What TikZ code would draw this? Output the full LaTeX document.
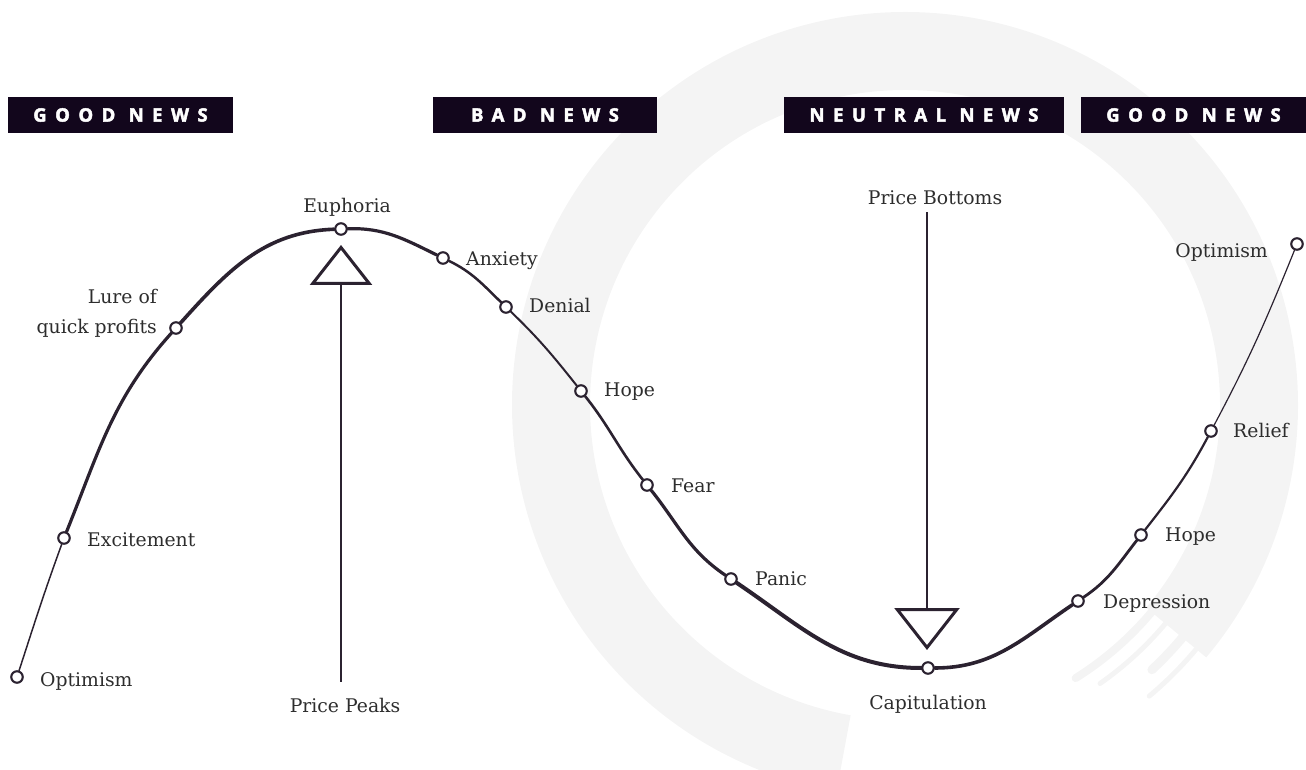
\documentclass[tikz,border=0pt]{standalone}
\usepackage{fontspec}
\setmainfont{DejaVu Serif}
\newfontfamily\hdrfont[LetterSpace=46, BoldFeatures={FakeBold=2.5}]{Open Sans}
\usetikzlibrary{arrows.meta}
\definecolor{ink}{HTML}{2B2230}
\definecolor{txt}{HTML}{2D2D2D}
\definecolor{tag}{HTML}{12061C}
\definecolor{wash}{HTML}{F4F4F4}

\begin{document}
\begin{tikzpicture}[x=1pt,y=1pt,
  dot/.style={circle, draw=ink, fill=white, line width=2.1pt, inner sep=0pt, minimum size=11.5pt},
  lbl/.style={font=\fontsize{18.8}{30}\selectfont, text=txt, inner sep=0pt, text height=13.8pt, text depth=0pt},
  tagbox/.style={fill=tag, text=white, minimum height=36pt, inner sep=0pt,
                 font=\hdrfont\bfseries\fontsize{18.5}{18.5}\selectfont},
  seg/.style={draw=ink, line cap=round, line width=#1},
  pointer/.style={draw=ink, line width=2.2pt,
                  -{Triangle[open, length=40pt, width=62pt, line width=3pt]}},
]
\useasboundingbox (0,0) rectangle (1306,769);

% ink-wash circle behind everything
\draw[wash, line width=78pt] (905,364) ++(-40:354) arc[start angle=-40, end angle=260, radius=354];
% dry-brush streaks where the stroke ends
\draw[wash, line width=8pt, line cap=round] (905,364) ++(-36:322) arc[start angle=-36, end angle=-58, radius=322];
\draw[wash, line width=5pt, line cap=round] (905,364) ++(-38:340) arc[start angle=-38, end angle=-55, radius=340];
\draw[wash, line width=9pt, line cap=round] (905,364) ++(-36:362) arc[start angle=-36, end angle=-47, radius=362];
\draw[wash, line width=5pt, line cap=round] (905,364) ++(-40:380) arc[start angle=-40, end angle=-50, radius=380];

% news headers
\node[tagbox, minimum width=225pt] (h1) at (120.5,654) {GOOD NEWS};
\node[tagbox, minimum width=224pt] (h2) at (545,654) {BAD NEWS};
\node[tagbox, minimum width=280pt] (h3) at (924,654) {NEUTRAL NEWS};
\node[tagbox, minimum width=225pt] (h4) at (1193.5,654) {GOOD NEWS};

% stations of the cycle
\node[dot] (p1)  at (17,92)    {};
\node[dot] (p2)  at (64,231)   {};
\node[dot] (p3)  at (176,441)  {};
\node[dot] (p4)  at (341,540)  {};
\node[dot] (p5)  at (443,511)  {};
\node[dot] (p6)  at (506,462)  {};
\node[dot] (p7)  at (581,378)  {};
\node[dot] (p8)  at (647,284)  {};
\node[dot] (p9)  at (731,190)  {};
\node[dot] (p10) at (928,101)  {};
\node[dot] (p11) at (1078,168) {};
\node[dot] (p12) at (1141,234) {};
\node[dot] (p13) at (1211,338) {};
\node[dot] (p14) at (1297,525) {};

% the market curve, one stroke per stretch
\draw[seg=1.5pt] (p1)  to[out=72,  in=250] (p2);
\draw[seg=3.2pt] (p2)  to[out=68,  in=228] (p3);
\draw[seg=3.6pt] (p3)  to[out=48,  in=182] (p4);
\draw[seg=3.2pt] (p4)  to[out=2,   in=154] (p5);
\draw[seg=2.5pt] (p5)  to[out=-26, in=136] (p6);
\draw[seg=2.0pt] (p6)  to[out=-44, in=128.5] (p7);
\draw[seg=2.6pt] (p7)  to[out=-51.5, in=128.5] (p8);
\draw[seg=3.2pt] (p8)  to[out=-51.5, in=146] (p9);
\draw[seg=4.0pt] (p9)  to[out=-34, in=180] (p10);
\draw[seg=3.6pt] (p10) to[out=0,   in=214] (p11);
\draw[seg=2.8pt] (p11) to[out=34,  in=232] (p12);
\draw[seg=2.2pt] (p12) to[out=52,  in=242] (p13);
\draw[seg=1.2pt] (p13) to[out=62,  in=248] (p14);

% labels
\node[lbl, anchor=west] (l1)  at (40,89)    {Optimism};
\node[lbl, anchor=west] (l2)  at (87,229)   {Excitement};
\node[font=\fontsize{18.8}{30}\selectfont, text=txt, inner sep=0pt, align=right, anchor=north east]
     (l3) at (157,480) {Lure of\\quick profits};
\node[lbl] (l4)  at (347,563)  {Euphoria};
\node[lbl, anchor=west] (l5)  at (466,510)  {Anxiety};
\node[lbl, anchor=west] (l6)  at (529,463)  {Denial};
\node[lbl, anchor=west] (l7)  at (604,379)  {Hope};
\node[lbl, anchor=west] (l8)  at (671,283)  {Fear};
\node[lbl, anchor=west] (l9)  at (755,190)  {Panic};
\node[lbl] (l10) at (928,66)   {Capitulation};
\node[lbl, anchor=west] (l11) at (1103,167) {Depression};
\node[lbl, anchor=west] (l12) at (1165,234) {Hope};
\node[lbl, anchor=west] (l13) at (1233,338) {Relief};
\node[lbl, anchor=east] (l14) at (1268,518) {Optimism};

% price turning points
\node[lbl] (peaks)   at (345,63)  {Price Peaks};
\node[lbl] (bottoms) at (935,571) {Price Bottoms};
\coordinate (peaktip)   at (341,524);
\coordinate (bottomtip) at (927,119);
\draw[pointer, shorten <=17pt] (peaks.north -| peaktip) -- (peaktip);
\draw[pointer, shorten <=7pt, -{Triangle[open, length=42pt, width=65pt, line width=3pt]}]
     (bottoms.south -| bottomtip) -- (bottomtip);
\end{tikzpicture}
\end{document}
